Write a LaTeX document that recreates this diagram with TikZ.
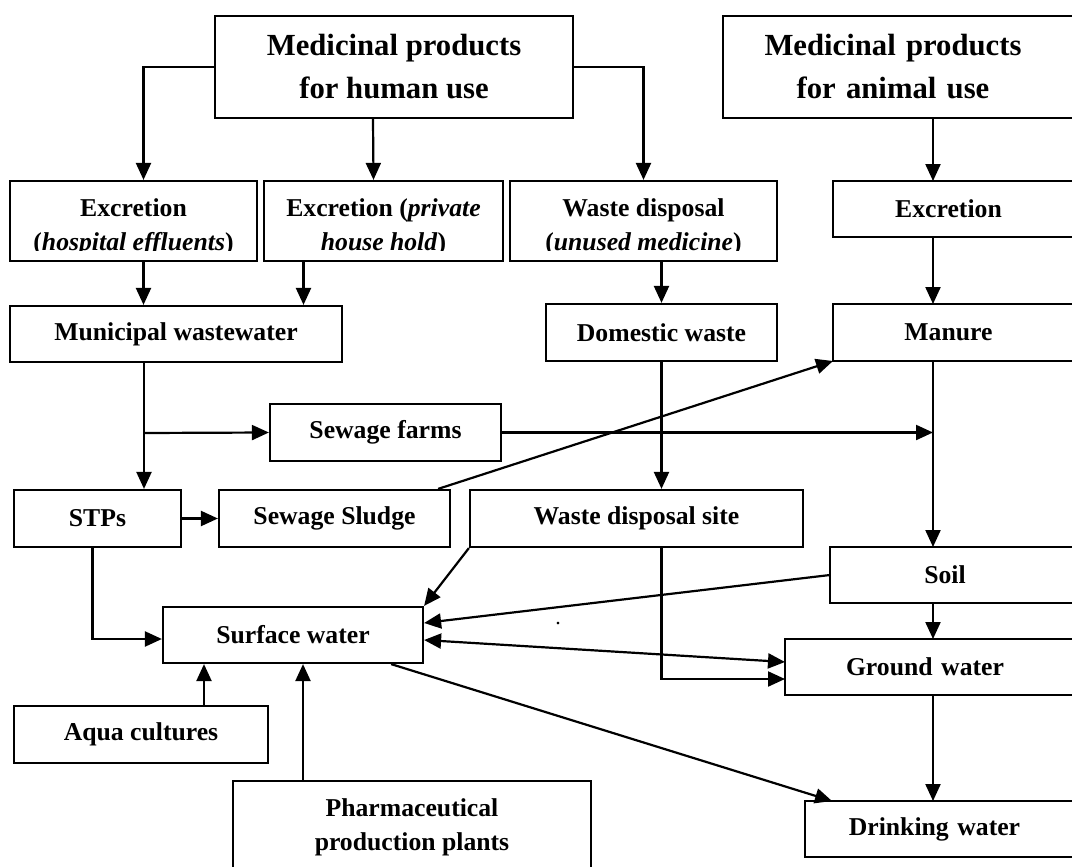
\documentclass[tikz,border=0pt]{standalone}
\usepackage{fontspec}
\setmainfont{Liberation Serif}
\usetikzlibrary{arrows.meta,calc}

\begin{document}
\begin{tikzpicture}[x=1pt,y=-1pt,line width=2.2pt,
  txt/.style={font=\fontsize{25.7}{34}\selectfont\bfseries, align=center},
  big/.style={font=\fontsize{30.7}{43}\selectfont\bfseries, align=center},
  box/.style={draw, txt, inner sep=0pt, minimum height=57pt},
  rbox/.style={txt, anchor=west, text width=#1, inner xsep=0pt, inner ysep=0pt, outer sep=0pt, minimum height=56pt,
    append after command={\pgfextra{\draw (\tikzlastnode.north west) rectangle ([xshift=70pt]\tikzlastnode.south east);}}},
  clipbox/.style 2 args={draw, inner sep=0pt, minimum height=80pt,
    path picture={\clip ([yshift=11pt]path picture bounding box.south west) rectangle (path picture bounding box.north east);
      \node[txt] (#1) at ([yshift=-6pt]path picture bounding box.center) {#2};}},
  arr/.style={-{Triangle[length=17pt,width=15pt]}},
  arrr/.style={{Triangle[length=17pt,width=15pt]}-{Triangle[length=17pt,width=15pt]}}]
\useasboundingbox (0,0) rectangle (1072,867);
\clip (0,0) rectangle (1072,867);

% sources
\node[draw, big, inner sep=0pt, minimum width=358pt, minimum height=102pt] (hum) at (394,67) {Medicinal products\\for human use};
\node[rbox=340pt, big, minimum height=102pt] (an) at (723,67) {Medicinal products\\for animal use};

% pathways
\node[clipbox={exht}{Excretion\\(\textit{hospital effluents})}, minimum width=247pt] (exh) at (133.5,221) {};
\node[clipbox={expt}{Excretion (\textit{private}\\\textit{house hold})}, minimum width=239pt] (exp) at (383.5,221) {};
\node[clipbox={wdt}{Waste disposal\\(\textit{unused medicine})}, minimum width=267pt] (wd) at (643.5,221) {};
\node[rbox=231pt] (exa) at (833,209) {Excretion};
\node[box, minimum width=332pt, minimum height=56pt] (mww) at (176,334) {Municipal wastewater};
\node[box, minimum width=231pt] (dw) at (661.5,332.5) {Domestic waste};
\node[rbox=231pt, minimum height=57pt] (man) at (833,332.5) {Manure};
\node[box, minimum width=231pt] (sf) at (385.5,432.5) {Sewage farms};
\node[box, minimum width=167pt] (stp) at (97.5,518.5) {STPs};
\node[box, minimum width=231pt] (ss) at (334.5,518.5) {Sewage Sludge};
\node[box, minimum width=333pt] (wds) at (636.5,518.5) {Waste disposal site};
\node[rbox=230pt] (soil) at (830,575) {Soil};

% receiving compartments
\node[box, minimum width=260pt, minimum height=56pt] (sw) at (293,635) {Surface water};
\node[rbox=280pt] (gw) at (785,667) {Ground water};
\node[box, minimum width=254pt] (aq) at (141,734.5) {Aqua cultures};
\node[box, minimum width=358pt, minimum height=92pt] (ph) at (412,827) {Pharmaceutical\\production plants};
\node[rbox=259pt] (drk) at (805,829) {Drinking water};
\node[font=\fontsize{22}{22}\selectfont] (dot) at (558,624) {.};

\coordinate (rc) at (933,0);
\coordinate (m) at (144,433);

\draw[arr] (hum.west) -| ([xshift=10pt]exh.north);
\draw[arr] ([xshift=-21pt]hum.south) -- ([xshift=-10pt]exp.north);
\draw[arr] (hum.east) -| (wd.north);
\draw[arr] (an.south -| rc) -- (exa.north -| rc);
\draw[arr] ([xshift=10pt]exh.south) -- ([xshift=10pt]exh.south |- mww.north);
\draw[arr] ([xshift=-80pt]exp.south) -- ([xshift=-80pt]exp.south |- mww.north);
\draw[arr] (wd.south -| dw.north) -- (dw.north);
\draw[arr] (exa.south -| rc) -- (man.north -| rc);
\draw[arr] (mww.south -| m) -- (stp.north -| m);
\draw[arr] (m) -- (sf.west);
\draw[arr] (sf.east) -- (sf.east -| rc);
\draw[arr] (man.south -| rc) -- (soil.north -| rc);
\draw[arr] (stp.east) -- (ss.west);
\draw[arr] ([xshift=-13pt]ss.north east) -- (man.south west);
\draw[arr] (dw.south) -- (dw.south |- wds.north);
\draw[arr] (wds.south west) -- (sw.north east);
\draw[arr] ([xshift=-5pt]stp.south) |- ([yshift=-4pt]sw.west);
\draw[arr] (soil.west) -- ([yshift=12pt]sw.east);
\draw[arrr] ([yshift=-5pt]sw.east) -- ([yshift=5pt]gw.west);
\draw[arr] (wds.south -| dw.south) |- ([yshift=-12pt]gw.west);
\draw[arr] (soil.south -| rc) -- (gw.north -| rc);
\draw[arr] (gw.south -| rc) -- (drk.north -| rc);
\draw[arr] ([xshift=-33pt]sw.south east) -- ([xshift=27pt]drk.north west);
\draw[arr] ([xshift=63pt]aq.north) -- ([xshift=63pt]aq.north |- sw.south);
\draw[arr] ([xshift=-109pt]ph.north) -- ([xshift=-109pt]ph.north |- sw.south);
\end{tikzpicture}
\end{document}
